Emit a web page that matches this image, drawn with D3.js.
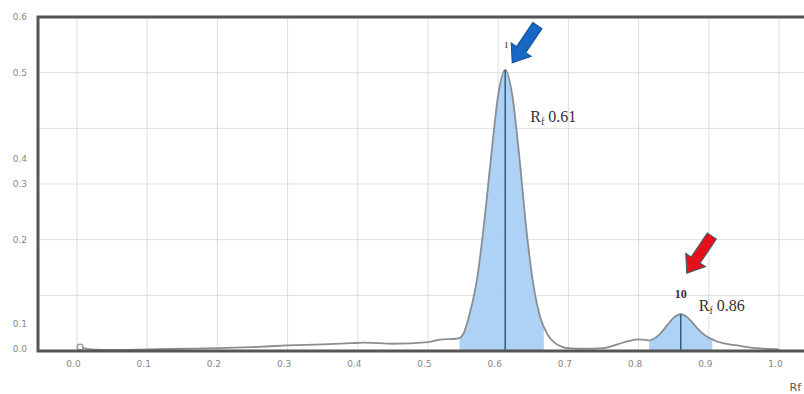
<!DOCTYPE html>
<html>
<head>
<meta charset="utf-8">
<script src="https://cdn.jsdelivr.net/npm/d3@7"></script>
<style>
  html, body { margin: 0; padding: 0; background: #fff; overflow: hidden; }
  svg { display: block; }
</style>
</head>
<body>
<svg id="chart" width="804" height="394"></svg>
<script>
// Densitometric scan of the plate: retention factor vs. detector response
const rf = [0.003, 0.02, 0.05, 0.10, 0.15, 0.20, 0.25, 0.30, 0.35, 0.39, 0.41, 0.45, 0.50, 0.52, 0.54, 0.545,
            0.55, 0.56, 0.57, 0.58, 0.59, 0.60, 0.61, 0.62, 0.63, 0.64, 0.65, 0.66, 0.67, 0.68, 0.69, 0.70,
            0.72, 0.75, 0.76, 0.78, 0.80, 0.81, 0.815, 0.82, 0.83, 0.84, 0.85, 0.86, 0.87, 0.88, 0.89, 0.90,
            0.905, 0.91, 0.92, 0.94, 0.96, 0.98, 1.00];
const intensity = [0.007, 0.003, 0.002, 0.003, 0.004, 0.005, 0.007, 0.010, 0.012, 0.014, 0.015, 0.013, 0.016, 0.021, 0.022, 0.023,
                   0.030, 0.070, 0.130, 0.230, 0.350, 0.460, 0.505, 0.460, 0.350, 0.220, 0.120, 0.060, 0.030, 0.015, 0.008, 0.005,
                   0.004, 0.005, 0.008, 0.016, 0.021, 0.020, 0.019, 0.021, 0.030, 0.045, 0.060, 0.066, 0.060, 0.046, 0.033, 0.024,
                   0.021, 0.018, 0.014, 0.010, 0.006, 0.004, 0.003];

// Axis ticks
const xTicks = [0.0, 0.1, 0.2, 0.3, 0.4, 0.5, 0.6, 0.7, 0.8, 0.9, 1.0];
const xTickLabels = ["0.0", "0.1", "0.2", "0.3", "0.4", "0.5", "0.6", "0.7", "0.8", "0.9", "1.0"];
const yGrid = [0.1, 0.2, 0.3, 0.4, 0.5];
const yTickLabels = ["0.0", "0.1", "0.2", "0.3", "0.4", "0.5", "0.6"];
const yTickAt = [0.005, 0.05, 0.2, 0.3, 0.345, 0.5, 0.6];

// Integrated spots
const peakNumber = ["1", "10"];
const peakRf = [0.61, 0.86];
const bandStart = [0.545, 0.815];
const bandEnd = [0.665, 0.905];
const arrowColor = ["#1668c4", "#e5101b"];
const arrowEdge = ["#0e4e96", "#2f6a6a"];

const data = rf.map((r, i) => ({ rf: r, v: intensity[i] }));

const svg = d3.select("#chart");
const W = 804, H = 394;
const plot = { left: 38, top: 17, right: 807, bottom: 351 };

const x = d3.scaleLinear().domain([0, 1]).range([77, 779]);
const y = d3.scaleLinear().domain([0, 0.6]).range([plot.bottom, plot.top]);

// grid
const grid = svg.append("g");
grid.selectAll("line.v").data(xTicks).join("line")
  .attr("x1", d => x(d)).attr("x2", d => x(d))
  .attr("y1", plot.top).attr("y2", plot.bottom)
  .attr("stroke", "#dedede").attr("stroke-width", 1);
grid.selectAll("line.h").data(yGrid).join("line")
  .attr("x1", plot.left).attr("x2", plot.right)
  .attr("y1", d => y(d)).attr("y2", d => y(d))
  .attr("stroke", "#dedede").attr("stroke-width", 1);

const curve = d3.curveMonotoneX;
const area = d3.area().x(d => x(d.rf)).y0(y(0)).y1(d => y(d.v)).curve(curve);
const line = d3.line().x(d => x(d.rf)).y(d => y(d.v)).curve(curve);

// shaded integration bands
const defs = svg.append("defs");
peakRf.forEach((p, i) => {
  defs.append("clipPath").attr("id", "band" + i)
    .append("rect")
    .attr("x", x(bandStart[i])).attr("width", x(bandEnd[i]) - x(bandStart[i]))
    .attr("y", 0).attr("height", H);
  svg.append("path").datum(data)
    .attr("d", area)
    .attr("clip-path", `url(#band${i})`)
    .attr("fill", "#a4cdf4").attr("fill-opacity", 0.9);
});

// scan trace
svg.append("path").datum(data)
  .attr("d", line)
  .attr("fill", "none")
  .attr("stroke", "#8a8e94")
  .attr("stroke-width", 1.8);

// application spot at the origin
svg.append("circle")
  .attr("cx", x(rf[0]) + 1).attr("cy", y(intensity[0]))
  .attr("r", 3)
  .attr("fill", "#fff").attr("stroke", "#8c9096").attr("stroke-width", 1.2);

// peak centre lines
peakRf.forEach((p, i) => {
  const v = intensity[rf.indexOf(p)];
  svg.append("line")
    .attr("x1", x(p)).attr("x2", x(p))
    .attr("y1", y(0)).attr("y2", y(v))
    .attr("stroke", "#2f5a84").attr("stroke-width", 1.5);
});

// frame
svg.append("path")
  .attr("d", `M${plot.right},${plot.top} H${plot.left} V${plot.bottom} H${plot.right}`)
  .attr("fill", "none").attr("stroke", "#555").attr("stroke-width", 3);

// axes
const xAxis = svg.append("g")
  .attr("transform", `translate(-4,${plot.bottom})`)
  .call(d3.axisBottom(x).tickValues(xTicks).tickSize(0).tickPadding(10)
    .tickFormat((d, i) => xTickLabels[i]));
xAxis.select(".domain").remove();
xAxis.selectAll("text")
  .attr("font-family", "DejaVu Sans, sans-serif").attr("font-size", 9)
  .attr("fill", "#888");

const yAxis = svg.append("g")
  .attr("transform", `translate(${plot.left},0)`)
  .call(d3.axisLeft(y).tickValues(yTickAt).tickSize(0).tickPadding(11)
    .tickFormat((d, i) => yTickLabels[i]));
yAxis.select(".domain").remove();
yAxis.selectAll("text")
  .attr("font-family", "DejaVu Sans, sans-serif").attr("font-size", 9)
  .attr("fill", "#888");

// axis title in the bottom-right corner
svg.append("text")
  .attr("x", 801).attr("y", 391)
  .attr("text-anchor", "end")
  .attr("font-family", "DejaVu Sans, sans-serif").attr("font-size", 11)
  .attr("fill", "#555")
  .text("Rf");

// arrow shape with its tip at the origin, pointing along +x
function arrowPath(len, shaftHalf, headLen, headHalf) {
  return `M${-len},${-shaftHalf} L${-headLen},${-shaftHalf} L${-headLen},${-headHalf} L0,0 ` +
         `L${-headLen},${headHalf} L${-headLen},${shaftHalf} L${-len},${shaftHalf} Z`;
}

// spot annotations
const serif = "Liberation Serif, Times New Roman, serif";
const labelOffsets = [
  { num: [1, -22], numSize: 8, rf: [25, 52], rfSize: 16, tip: [7, -7] },
  { num: [0, -16], numSize: 12, rf: [18, -3], rfSize: 16, tip: [6, -41] }
];
peakRf.forEach((p, i) => {
  const v = intensity[rf.indexOf(p)];
  const px = x(p), py = y(v);
  const o = labelOffsets[i];

  svg.append("text")
    .attr("x", px + o.num[0]).attr("y", py + o.num[1])
    .attr("text-anchor", "middle")
    .attr("font-family", serif).attr("font-weight", "bold")
    .attr("font-size", o.numSize).attr("fill", i === 0 ? "#6b5846" : "#333")
    .text(peakNumber[i]);

  const t = svg.append("text")
    .attr("x", px + o.rf[0]).attr("y", py + o.rf[1])
    .attr("font-family", serif).attr("font-size", o.rfSize).attr("fill", "#333");
  t.append("tspan").text("R");
  t.append("tspan").attr("font-size", o.rfSize * 0.62).attr("dy", 3).text("f");
  t.append("tspan").attr("dy", -3).text(" " + p.toFixed(2));

  svg.append("path")
    .attr("d", arrowPath(45, 5.5, 16, 12))
    .attr("transform", `translate(${px + o.tip[0]},${py + o.tip[1]}) rotate(124)`)
    .attr("fill", arrowColor[i])
    .attr("stroke", arrowEdge[i]).attr("stroke-width", 1);
});
</script>
</body>
</html>
